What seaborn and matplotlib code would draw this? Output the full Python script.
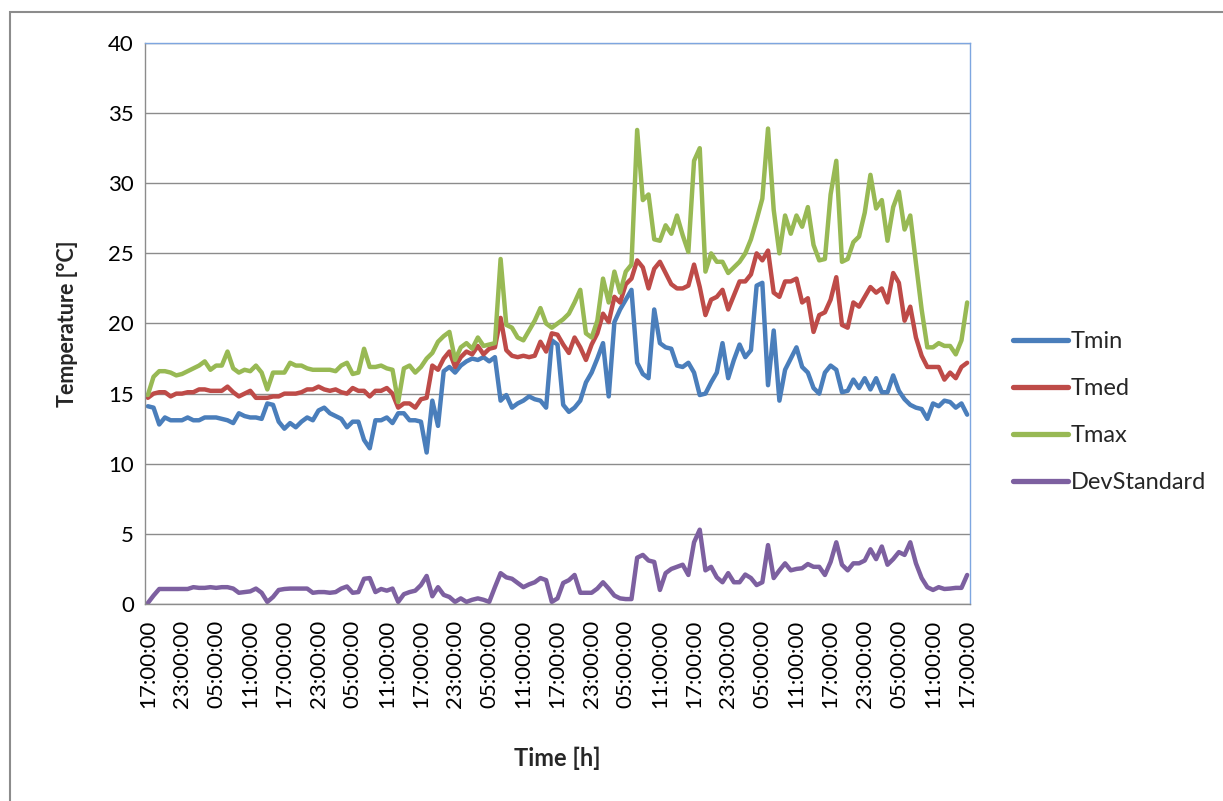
import matplotlib
matplotlib.use('Agg')  # backend senza display
import matplotlib.pyplot as plt
import seaborn as sns
import pandas as pd
from matplotlib.patches import Rectangle

# Dati orari (145 letture, 6 giorni)
tmin = [14.1, 14.0, 12.8, 13.3, 13.1, 13.1, 13.1, 13.3, 13.1, 13.1,
        13.3, 13.3, 13.3, 13.2, 13.1, 12.9, 13.6, 13.4, 13.3, 13.3,
        13.2, 14.3, 14.2, 13.0, 12.5, 12.9, 12.6, 13.0, 13.3, 13.1,
        13.8, 14.0, 13.6, 13.4, 13.2, 12.6, 13.0, 13.0, 11.7, 11.1,
        13.1, 13.1, 13.3, 12.9, 13.6, 13.6, 13.1, 13.1, 13.0, 10.8,
        14.5, 12.7, 16.6, 16.9, 16.5, 17.0, 17.3, 17.5, 17.4, 17.6,
        17.3, 17.6, 14.5, 14.9, 14.0, 14.3, 14.5, 14.8, 14.6, 14.5,
        14.0, 18.8, 18.5, 14.2, 13.7, 14.0, 14.5, 15.8, 16.5, 17.5,
        18.6, 14.8, 20.1, 21.0, 21.7, 22.4, 17.2, 16.4, 16.1, 21.0,
        18.6, 18.3, 18.2, 17.0, 16.9, 17.2, 16.5, 14.9, 15.0, 15.8,
        16.5, 18.6, 16.1, 17.4, 18.5, 17.6, 18.1, 22.7, 22.9, 15.6,
        19.5, 14.5, 16.7, 17.5, 18.3, 16.9, 16.5, 15.4, 15.0, 16.5,
        17.0, 16.7, 15.1, 15.2, 16.0, 15.4, 16.1, 15.3, 16.1, 15.1,
        15.1, 16.3, 15.2, 14.6, 14.2, 14.0, 13.9, 13.2, 14.3, 14.1,
        14.5, 14.4, 14.0, 14.3, 13.5]

tmed = [14.7, 15.0, 15.1, 15.1, 14.8, 15.0, 15.0, 15.1, 15.1, 15.3,
        15.3, 15.2, 15.2, 15.2, 15.5, 15.1, 14.8, 15.0, 15.2, 14.7,
        14.7, 14.7, 14.8, 14.8, 15.0, 15.0, 15.0, 15.1, 15.3, 15.3,
        15.5, 15.3, 15.2, 15.3, 15.1, 15.0, 15.4, 15.2, 15.2, 14.8,
        15.2, 15.2, 15.4, 15.0, 14.0, 14.3, 14.3, 14.0, 14.6, 14.7,
        17.0, 16.7, 17.5, 18.0, 16.9, 17.6, 18.0, 17.8, 18.4, 17.8,
        18.2, 18.3, 20.4, 18.1, 17.7, 17.6, 17.7, 17.6, 17.7, 18.7,
        18.0, 19.3, 19.2, 18.5, 17.9, 19.0, 18.3, 17.4, 18.5, 19.3,
        20.7, 20.1, 21.9, 21.5, 22.8, 23.2, 24.5, 24.0, 22.5, 23.9,
        24.4, 23.6, 22.8, 22.5, 22.5, 22.7, 24.2, 22.6, 20.6, 21.7,
        21.9, 22.4, 21.0, 22.0, 23.0, 23.0, 23.5, 25.0, 24.5, 25.2,
        22.2, 21.9, 23.0, 23.0, 23.2, 21.5, 21.8, 19.4, 20.6, 20.8,
        21.7, 23.3, 19.9, 19.7, 21.5, 21.2, 21.9, 22.6, 22.2, 22.5,
        21.5, 23.6, 22.9, 20.2, 21.2, 19.0, 17.7, 16.9, 16.9, 16.9,
        16.0, 16.5, 16.1, 16.9, 17.2]

tmax = [14.9, 16.2, 16.6, 16.6, 16.5, 16.3, 16.4, 16.6, 16.8, 17.0,
        17.3, 16.7, 17.0, 17.0, 18.0, 16.8, 16.5, 16.7, 16.6, 17.0,
        16.5, 15.3, 16.5, 16.5, 16.5, 17.2, 17.0, 17.0, 16.8, 16.7,
        16.7, 16.7, 16.7, 16.6, 17.0, 17.2, 16.4, 16.5, 18.2, 16.9,
        16.9, 17.0, 16.8, 16.7, 14.4, 16.8, 17.0, 16.5, 16.9, 17.5,
        17.9, 18.7, 19.1, 19.4, 17.4, 18.3, 18.6, 18.2, 19.0, 18.4,
        18.5, 18.6, 24.6, 19.9, 19.7, 19.0, 18.8, 19.5, 20.2, 21.1,
        20.0, 19.7, 20.0, 20.3, 20.7, 21.5, 22.4, 19.3, 19.0, 20.2,
        23.2, 21.5, 23.7, 22.2, 23.7, 24.2, 33.8, 28.8, 29.2, 26.0,
        25.9, 27.0, 26.4, 27.7, 26.3, 25.1, 31.6, 32.5, 23.7, 25.0,
        24.4, 24.4, 23.6, 24.0, 24.4, 25.0, 26.0, 27.4, 28.9, 33.9,
        28.1, 25.0, 27.7, 26.4, 27.7, 26.9, 28.3, 25.6, 24.5, 24.6,
        29.2, 31.6, 24.4, 24.6, 25.8, 26.2, 27.9, 30.6, 28.2, 28.8,
        25.9, 28.3, 29.4, 26.7, 27.7, 24.3, 21.0, 18.3, 18.3, 18.6,
        18.4, 18.4, 17.8, 18.8, 21.5]

dev_std = [0.07, 0.6, 1.07, 1.07, 1.07, 1.07, 1.07, 1.07, 1.2, 1.15,
           1.15, 1.2, 1.15, 1.2, 1.2, 1.1, 0.8, 0.85, 0.9, 1.1,
           0.8, 0.15, 0.5, 1.0, 1.07, 1.1, 1.1, 1.1, 1.1, 0.8,
           0.85, 0.85, 0.8, 0.85, 1.1, 1.25, 0.8, 0.85, 1.8, 1.85,
           0.85, 1.07, 0.95, 1.1, 0.15, 0.7, 0.85, 0.95, 1.35, 2.0,
           0.55, 1.2, 0.65, 0.5, 0.15, 0.4, 0.15, 0.3, 0.4, 0.3,
           0.15, 1.2, 2.2, 1.9, 1.8, 1.5, 1.2, 1.4, 1.55, 1.85,
           1.7, 0.15, 0.4, 1.5, 1.7, 2.07, 0.8, 0.8, 0.8, 1.1,
           1.55, 1.1, 0.6, 0.4, 0.35, 0.35, 3.3, 3.5, 3.1, 3.0,
           1.0, 2.2, 2.5, 2.65, 2.8, 2.07, 4.4, 5.3, 2.4, 2.65,
           1.9, 1.55, 2.2, 1.55, 1.55, 2.1, 1.85, 1.35, 1.55, 4.2,
           1.85, 2.4, 2.9, 2.4, 2.5, 2.55, 2.85, 2.65, 2.65, 2.07,
           3.0, 4.4, 2.8, 2.4, 2.9, 2.9, 3.1, 3.9, 3.2, 4.1,
           2.8, 3.2, 3.7, 3.5, 4.4, 2.9, 1.85, 1.2, 1.0, 1.2,
           1.07, 1.1, 1.15, 1.15, 2.07]

etichette_x = ['17:00:00', '23:00:00', '05:00:00', '11:00:00'] * 6 + ['17:00:00']
serie = ['Tmin', 'Tmed', 'Tmax', 'DevStandard']
colori = ['#4A7EBB', '#BE4B48', '#98B954', '#7D60A0']

# Dataframe in formato lungo per seaborn
n = len(tmin)
ore = list(range(n))
df = pd.DataFrame({
    'ora': ore * 4,
    'valore': tmin + tmed + tmax + dev_std,
    'serie': [s for s in serie for _ in range(n)],
})

sns.set_style('white')
plt.rcParams['font.family'] = ['Lato', 'DejaVu Sans']

fig = plt.figure(figsize=(12.23, 8.01), dpi=100)
# cornice esterna del grafico
fig.patches.append(Rectangle((10 / 1223, -0.05), 1.05, 1.05 - 12 / 801, transform=fig.transFigure,
                             fill=False, edgecolor='#8C8C8C', linewidth=1.5))

ax = fig.add_axes([145 / 1223, 1 - 604 / 801, 825 / 1223, 561 / 801])
sns.lineplot(data=df, x='ora', y='valore', hue='serie', hue_order=serie,
             palette=colori, linewidth=3.2, ax=ax, sort=False)

ax.set_ylim(0, 40)
ax.set_yticks(range(0, 41, 5))
ax.set_xlim(-0.5, n - 0.5)
ax.set_xticks(range(0, n, 6))
ax.set_xticklabels(etichette_x, rotation=90)
ax.yaxis.grid(True, color='#8C8C8C', linewidth=1.0)
ax.set_axisbelow(True)
ax.tick_params(axis='both', labelsize=16, colors='black', length=0)
ax.tick_params(axis='x', pad=11)
ax.tick_params(axis='y', pad=8)

for lato in ['left', 'bottom']:
    ax.spines[lato].set_color('#8C8C8C')
    ax.spines[lato].set_linewidth(1.0)
for lato in ['top', 'right']:
    ax.spines[lato].set_color('#7EA6E0')
    ax.spines[lato].set_linewidth(1.0)

ax.set_ylabel('Temperature [°C]', fontsize=15.5, fontweight='bold', labelpad=22)
ax.set_xlabel('Time [h]', fontsize=17, fontweight='bold', labelpad=28)

sns.move_legend(ax, 'center left', bbox_to_anchor=(1.026, 0.342), frameon=False, title=None,
                fontsize=17, labelspacing=1.1, handlelength=2.33, handletextpad=0.13)
for linea in ax.get_legend().get_lines():
    linea.set_linewidth(3.8)

fig.savefig('out.png', dpi=100)
plt.close(fig)
